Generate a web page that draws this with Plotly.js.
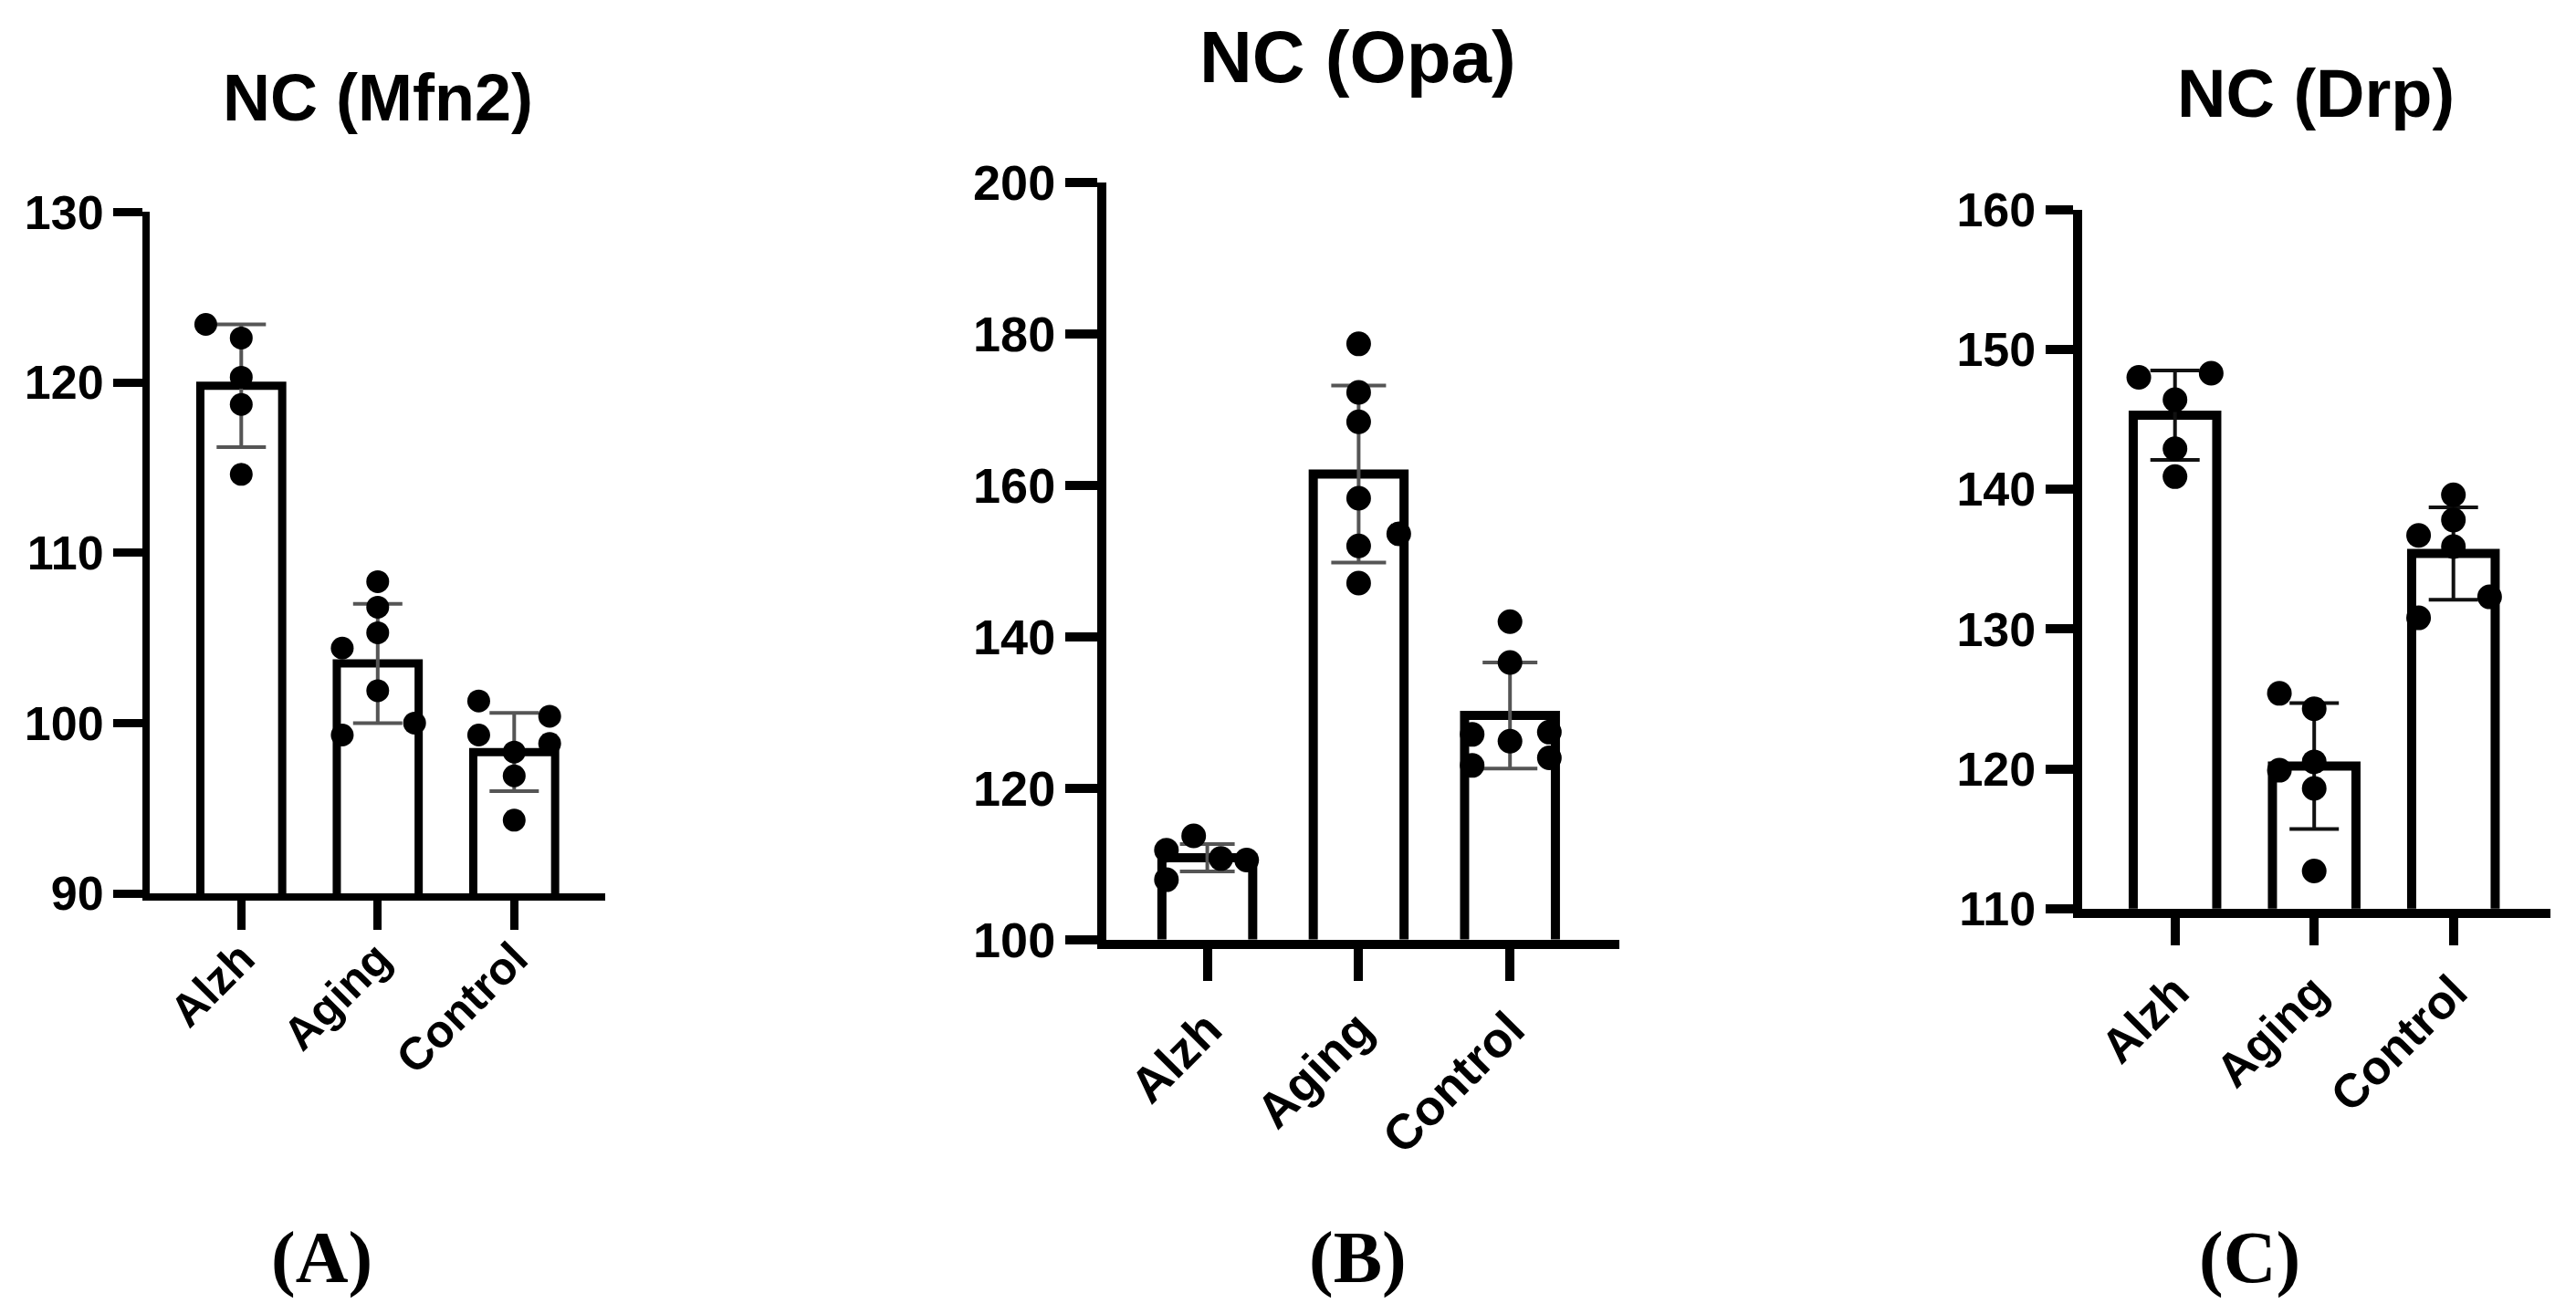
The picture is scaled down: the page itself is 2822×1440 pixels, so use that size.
<!DOCTYPE html>
<html><head><meta charset="utf-8">
<script src="https://cdn.plot.ly/plotly-3.0.1.min.js"></script>
<style>html,body{margin:0;padding:0;background:#fff}#chart{width:2822px;height:1440px}</style>
</head><body><div id="chart"></div>
<script>
// ---------------- DATA ----------------
const categories = ['Alzh', 'Aging', 'Control'];
const panelTitles = ['NC (Mfn2)', 'NC (Opa)', 'NC (Drp)'];
const panelLabels = ['(A)', '(B)', '(C)'];

// Panel A : NC (Mfn2)
const mfn2Mean = [119.8, 103.5, 98.3];
const mfn2Sd = [3.6, 3.5, 2.3];
const mfn2Alzh = [123.4, 122.6, 120.3, 118.7, 114.6];
const mfn2Aging = [108.3, 106.8, 105.3, 104.4, 101.9, 100.0, 99.3];
const mfn2Control = [101.3, 100.4, 99.3, 98.8, 98.3, 96.9, 94.3];
const mfn2Ticks = [90, 100, 110, 120, 130];

// Panel B : NC (Opa)
const opaMean = [110.8, 161.5, 129.6];
const opaSd = [1.8, 11.7, 7.0];
const opaAlzh = [113.7, 111.8, 110.7, 110.5, 107.9];
const opaAging = [178.7, 172.3, 168.4, 158.3, 153.6, 152.0, 147.1];
const opaControl = [142.0, 136.6, 127.4, 127.1, 126.2, 124.0, 123.0];
const opaTicks = [100, 120, 140, 160, 180, 200];

// Panel C : NC (Drp)
const drpMean = [145.3, 120.2, 135.4];
const drpSd = [3.2, 4.5, 3.3];
const drpAlzh = [148.3, 148.0, 146.4, 142.9, 140.9];
const drpAging = [125.4, 124.3, 120.5, 119.9, 118.6, 112.7];
const drpControl = [139.6, 137.8, 136.7, 135.9, 132.3, 130.8];
const drpTicks = [110, 120, 130, 140, 150, 160];

// ---------------- LAYOUT / STYLE ----------------
const W = 2822, H = 1440;
// horizontal scatter offsets of the individual points (in category units)
const jitter = {
  A: [[-0.26, 0, 0, 0, 0], [0, 0, 0, -0.26, 0, 0.27, -0.26], [-0.26, 0.26, -0.26, 0.26, 0, 0, 0]],
  B: [[-0.09, -0.27, 0.09, 0.26, -0.27], [0, 0, 0, 0, 0.265, 0, 0], [0, 0, 0.26, -0.25, 0, 0.26, -0.25]],
  C: [[0.26, -0.26, 0, 0, 0], [-0.25, 0, 0, -0.25, 0, 0], [0, 0, -0.25, 0, 0.26, -0.25]]
};

const panels = [
  { key: 'A', mean: mfn2Mean, sd: mfn2Sd, pts: [mfn2Alzh, mfn2Aging, mfn2Control], ticks: mfn2Ticks,
    yr: [90, 130], axisX: 164, first: 264.3, step: 149.5, xEnd: 2.67, yMinPx: 979.1, yMaxPx: 232.3,
    barLw: 9, axLw: 8, tickLen: 32, tickW: 9, font: 52, xFont: 50, xStand: -18, dot: 25, errW: 27, errC: '#555',
    title: { x: 414, y: 107, size: 72 }, label: { x: 352 } },
  { key: 'B', mean: opaMean, sd: opaSd, pts: [opaAlzh, opaAging, opaControl], ticks: opaTicks,
    yr: [100, 200], axisX: 1212, first: 1322.6, step: 165.8, xEnd: 2.72, yMinPx: 1029.6, yMaxPx: 200.2,
    barLw: 10, axLw: 10, tickLen: 35, tickW: 10, font: 54, xFont: 54, xStand: 0, dot: 27, errW: 30, errC: '#555',
    title: { x: 1487.5, y: 63, size: 80 }, label: { x: 1487 } },
  { key: 'C', mean: drpMean, sd: drpSd, pts: [drpAlzh, drpAging, drpControl], ticks: drpTicks,
    yr: [110, 160], axisX: 2280.6, first: 2382.7, step: 152.5, xEnd: 2.70, yMinPx: 995.8, yMaxPx: 229.7,
    barLw: 10, axLw: 10, tickLen: 30, tickW: 10, font: 52, xFont: 52, xStand: 0, dot: 27, errW: 27, errC: '#111',
    title: { x: 2537, y: 103, size: 74 }, label: { x: 2464 } }
];

const traces = [];
const layout = {
  width: W, height: H, margin: { l: 0, r: 0, t: 0, b: 0 },
  paper_bgcolor: '#fff', plot_bgcolor: 'rgba(0,0,0,0)', showlegend: false,
  annotations: []
};

panels.forEach((p, i) => {
  const n = i === 0 ? '' : String(i + 1);
  const xa = 'x' + n, ya = 'y' + n;
  const xr0 = -(p.first - p.axisX) / p.step;
  const xr1 = p.xEnd;
  const xEndPx = p.first + xr1 * p.step;
  const tf = { family: 'Liberation Sans, Arial, sans-serif', size: p.font, color: '#000', weight: 'bold' };
  const xtf = { family: 'Liberation Sans, Arial, sans-serif', size: p.xFont, color: '#000', weight: 'bold' };

  layout['xaxis' + n] = {
    domain: [p.axisX / W, xEndPx / W], range: [xr0, xr1], anchor: ya,
    tickvals: [0, 1, 2], ticktext: categories, tickangle: -45,
    ticks: 'outside', ticklen: p.tickLen, tickwidth: p.tickW, tickcolor: '#000',
    ticklabelstandoff: p.xStand,
    showline: true, linewidth: p.axLw, linecolor: '#000',
    showgrid: false, zeroline: false, tickfont: xtf, fixedrange: true
  };
  layout['yaxis' + n] = {
    domain: [1 - p.yMinPx / H, 1 - p.yMaxPx / H], range: p.yr, anchor: xa,
    tickvals: p.ticks, ticks: 'outside', ticklen: p.tickLen, tickwidth: p.tickW, tickcolor: '#000',
    showline: true, linewidth: p.axLw, linecolor: '#000',
    showgrid: false, zeroline: false, tickfont: tf, fixedrange: true
  };

  traces.push({
    type: 'bar', x: [0, 1, 2], y: p.mean,
    xaxis: xa, yaxis: ya, width: 0.6,
    marker: { color: '#fff', line: { color: '#000', width: p.barLw } },
    error_y: { type: 'data', array: p.sd, visible: true, color: p.errC, thickness: 4, width: p.errW },
    hoverinfo: 'skip'
  });

  p.pts.forEach((vals, g) => {
    traces.push({
      type: 'scatter', mode: 'markers', xaxis: xa, yaxis: ya,
      x: vals.map((v, k) => g + jitter[p.key][g][k]), y: vals,
      marker: { color: '#000', size: p.dot }, cliponaxis: false, hoverinfo: 'skip'
    });
  });

  layout.annotations.push({
    xref: 'paper', yref: 'paper', x: p.title.x / W, y: 1 - p.title.y / H,
    xanchor: 'center', yanchor: 'middle', showarrow: false, text: panelTitles[i],
    font: { family: 'Liberation Sans, Arial, sans-serif', size: p.title.size, color: '#000', weight: 'bold' }
  });
  layout.annotations.push({
    xref: 'paper', yref: 'paper', x: p.label.x / W, y: 1 - 1378 / H,
    xanchor: 'center', yanchor: 'middle', showarrow: false, text: panelLabels[i],
    font: { family: 'Liberation Serif, Times New Roman, serif', size: 80, color: '#000', weight: 'bold' }
  });
});

Plotly.newPlot('chart', traces, layout, { staticPlot: true, displayModeBar: false });
</script>
</body></html>
